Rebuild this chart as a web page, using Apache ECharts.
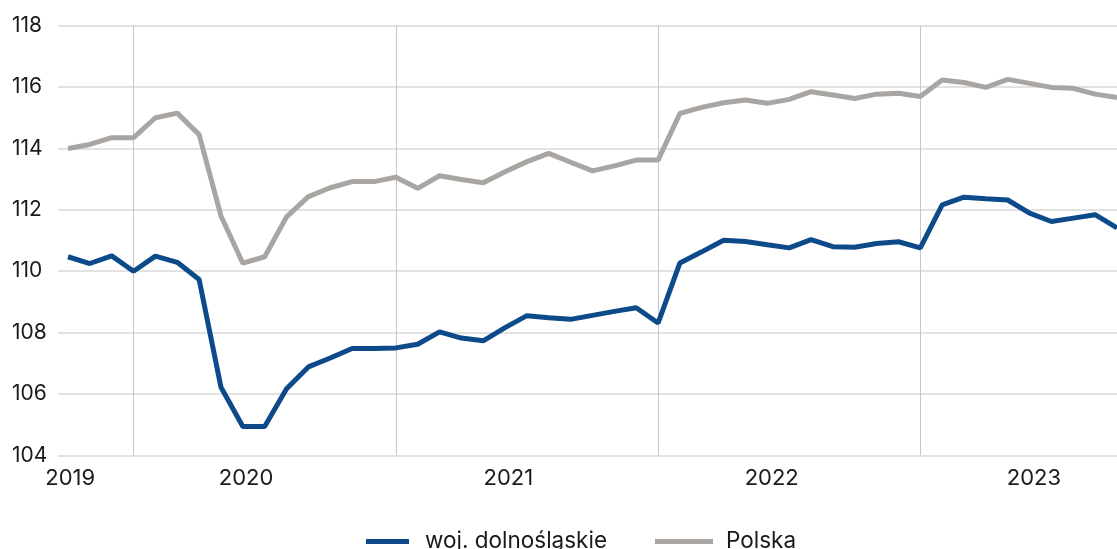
<!DOCTYPE html>
<html>
<head>
<meta charset="utf-8">
<script src="https://cdn.jsdelivr.net/npm/echarts@6/dist/echarts.min.js"></script>
<style>
  html, body { margin: 0; padding: 0; background: #fff; }
  #chart { width: 1117px; height: 549px; }
</style>
</head>
<body>
<div id="chart"></div>
<script>
// monthly index, 0 = first observation
const dolnoslaskie = [
  110.47, 110.25, 110.5, 110.0, 110.49, 110.29, 109.73, 106.22, 104.94, 104.94,
  106.17, 106.88, 107.17, 107.48, 107.48, 107.5, 107.62, 108.02, 107.82, 107.73,
  108.16, 108.55, 108.48, 108.43, 108.56, 108.69, 108.81, 108.31, 110.27, 110.63,
  111.01, 110.97, 110.86, 110.76, 111.03, 110.8, 110.78, 110.9, 110.96, 110.76,
  112.16, 112.41, 112.36, 112.32, 111.89, 111.62, 111.73, 111.84, 111.41
];
const polska = [
  114.0, 114.13, 114.35, 114.35, 115.0, 115.15, 114.45, 111.8, 110.26, 110.47,
  111.77, 112.43, 112.72, 112.92, 112.92, 113.06, 112.7, 113.11, 112.99, 112.88,
  113.24, 113.57, 113.84, 113.55, 113.27, 113.43, 113.62, 113.62, 115.14, 115.34,
  115.49, 115.58, 115.47, 115.6, 115.85, 115.74, 115.63, 115.77, 115.8, 115.69,
  116.23, 116.15, 115.99, 116.25, 116.12, 115.99, 115.96, 115.77, 115.66
];
const yearLabels = ["2019", "2020", "2021", "2022", "2023"];
const yearLabelPos = [0.1, 8.15, 20.15, 32.2, 44.2];
const yearBreaks = [3, 15, 27, 39];

const BLUE = "#0c4a8a";
const GREY = "#a8a5a2";

const toPairs = (arr) => arr.map((v, i) => [i, v]);

const legendText = (pad) => ({
  fontFamily: "Inter",
  fontSize: 22.5,
  color: "#1a1a1a",
  padding: [0, 0, 10, pad],
});

const chart = echarts.init(document.getElementById("chart"));
chart.setOption({
  animation: false,
  textStyle: { fontFamily: "Inter" },
  grid: { left: 58, right: 0, top: 25.7, bottom: 93.7, containLabel: false },
  legend: [
    {
      left: 361,
      top: 525,
      itemWidth: 43,
      itemHeight: 5,
      icon: "rect",
      textStyle: legendText(11),
      data: ["woj. dolnośląskie"],
    },
    {
      left: 650,
      top: 525,
      itemWidth: 58,
      itemHeight: 5,
      icon: "rect",
      textStyle: legendText(8),
      data: ["Polska"],
    },
  ],
  xAxis: {
    type: "value",
    min: -0.4576,
    max: 48,
    axisLine: { show: false },
    axisTick: { show: false, customValues: yearBreaks },
    splitLine: { show: true, lineStyle: { color: "#c8c8c8", width: 1 } },
    axisLabel: {
      customValues: yearLabelPos,
      fontSize: 22,
      color: "#1a1a1a",
      margin: 12,
      formatter: (v) => {
        const k = yearLabelPos.findIndex((p) => Math.abs(p - v) < 1e-6);
        return k >= 0 ? yearLabels[k] : "";
      },
    },
  },
  yAxis: {
    type: "value",
    min: 104,
    max: 118,
    interval: 2,
    axisLine: { show: false },
    axisTick: { show: false },
    splitLine: { lineStyle: { color: "#d9d9d9", width: 1.5 } },
    axisLabel: { fontSize: 21, color: "#1a1a1a", align: "left", margin: 46 },
  },
  series: [
    {
      name: "woj. dolnośląskie",
      type: "line",
      data: toPairs(dolnoslaskie),
      symbol: "none",
      lineStyle: { color: BLUE, width: 5 },
      itemStyle: { color: BLUE },
      z: 3,
    },
    {
      name: "Polska",
      type: "line",
      data: toPairs(polska),
      symbol: "none",
      lineStyle: { color: GREY, width: 5 },
      itemStyle: { color: GREY },
      z: 2,
    },
  ],
});
</script>
</body>
</html>
